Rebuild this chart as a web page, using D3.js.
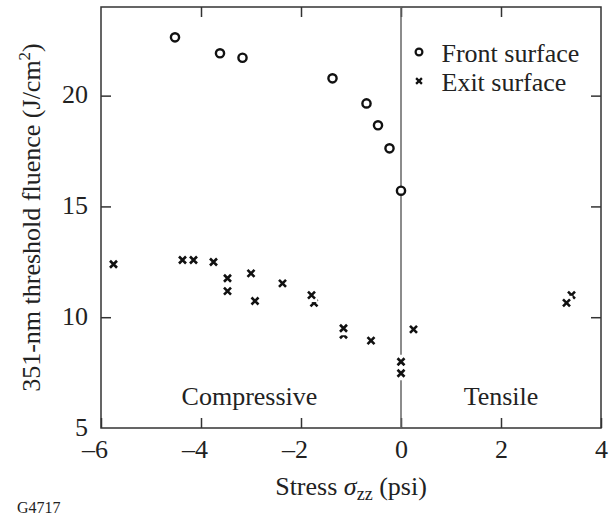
<!DOCTYPE html>
<head>
	<meta charset="UTF-8">
	<script src="https://d3js.org/d3.v7.min.js"></script>
	<style>
		body { margin: 0; background: #fff; }
		text { font-family: "Liberation Serif", "Times New Roman", serif; fill: #222; }
	</style>
</head>
<body>
	<div id="chart"></div>
<script>

// front surface (circles)
const frontStress = [-4.52, -3.62, -3.17, -1.37, -0.69, -0.46, -0.23, 0];
const frontFluence = [22.63, 21.91, 21.71, 20.78, 19.65, 18.66, 17.62, 15.71];

// exit surface (crosses) - partly hidden ones come first so later marks sit on top
const exitStress = [-1.74, -1.15, 3.41, -5.75, -4.37, -4.15, -3.75, -3.47, -3.47, -3.0, -2.92, -2.37, -1.79, -1.15, -0.6, 0.25, 0, 0, 3.31];
const exitFluence = [10.65, 9.21, 11.0, 12.39, 12.58, 12.58, 12.49, 11.76, 11.18, 11.98, 10.73, 11.53, 11.0, 9.5, 8.94, 9.45, 7.99, 7.47, 10.65];

const xTicks = [-6, -4, -2, 0, 2, 4];
const yTicks = [5, 10, 15, 20];
const legendLabels = ["Front surface", "Exit surface"];
const regionLabels = [{text: "Compressive", x: -3.03}, {text: "Tensile", x: 2}];

const width = 615, height = 518;
const margin = {top: 7, right: 14, bottom: 90, left: 101};

const x = d3.scaleLinear().domain([-6, 4]).range([margin.left, width - margin.right]);
const y = d3.scaleLinear().domain([5, 24]).range([height - margin.bottom, margin.top]);

const svg = d3.select("#chart").append("svg")
	.attr("width", width)
	.attr("height", height);

const fmt = d => d < 0 ? "\u2013" + Math.abs(d) : String(d);

// bottom axis
const gx = svg.append("g")
	.attr("transform", `translate(0,${y.range()[0]})`)
	.call(d3.axisBottom(x).tickValues(xTicks).tickFormat(fmt).tickSizeInner(-10).tickSizeOuter(0).tickPadding(12));
gx.selectAll("text")
	.attr("font-size", 26)
	.attr("text-anchor", d => d < 0 ? "end" : "middle")
	.attr("dx", d => d < 0 ? 6.5 : 0);

// top axis (ticks only)
svg.append("g")
	.attr("transform", `translate(0,${y.range()[1]})`)
	.call(d3.axisTop(x).tickValues(xTicks.slice(1, -1)).tickFormat("").tickSizeInner(-10).tickSizeOuter(0));

// left axis
const gy = svg.append("g")
	.attr("transform", `translate(${x.range()[0]},0)`)
	.call(d3.axisLeft(y).tickValues(yTicks).tickSizeInner(-10).tickSizeOuter(0).tickPadding(13));
gy.selectAll("text").attr("font-size", 26).attr("dy", "0.28em");
gy.selectAll(".tick line").filter(d => d === 5).remove();

// right axis (ticks only)
svg.append("g")
	.attr("transform", `translate(${x.range()[1]},0)`)
	.call(d3.axisRight(y).tickValues(yTicks.slice(1)).tickFormat("").tickSizeInner(-10).tickSizeOuter(0));

svg.selectAll(".domain").remove();
svg.selectAll(".tick line").attr("stroke", "#333").attr("stroke-width", 1.5);
svg.selectAll(".tick text").attr("fill", "#222").attr("font-family", "Liberation Serif, serif");

// frame
svg.append("rect")
	.attr("x", x.range()[0])
	.attr("y", y.range()[1])
	.attr("width", x.range()[1] - x.range()[0])
	.attr("height", y.range()[0] - y.range()[1])
	.attr("fill", "none")
	.attr("stroke", "#333")
	.attr("stroke-width", 1.5);

// zero stress line
svg.append("line")
	.attr("x1", x(0)).attr("x2", x(0))
	.attr("y1", y.range()[0]).attr("y2", y.range()[1])
	.attr("stroke", "#666")
	.attr("stroke-width", 1.5);

// region labels
svg.selectAll(".region")
	.data(regionLabels)
	.join("text")
	.attr("class", "region")
	.attr("x", d => x(d.x))
	.attr("y", 405)
	.attr("text-anchor", "middle")
	.attr("font-size", 26)
	.text(d => d.text);

// cross marks sit on a small white knockout box
function cross(g, px, py, s, w, box) {
	if (box) g.append("rect").attr("x", px - 6).attr("y", py - 7).attr("width", 12).attr("height", 14).attr("fill", "#fff");
	g.append("path")
		.attr("d", `M${px - s},${py - s}L${px + s},${py + s}M${px - s},${py + s}L${px + s},${py - s}`)
		.attr("stroke", "#111").attr("stroke-width", w).attr("fill", "none");
}

const exitG = svg.append("g");
exitStress.forEach((s, i) => cross(exitG, x(s), y(exitFluence[i]), 3.5, 2.6, true));

// circles
svg.append("g")
	.selectAll("circle")
	.data(frontStress)
	.join("circle")
	.attr("cx", d => x(d))
	.attr("cy", (d, i) => y(frontFluence[i]))
	.attr("r", 4.1)
	.attr("fill", "#fff")
	.attr("stroke", "#111")
	.attr("stroke-width", 2.4);

// legend
const lg = svg.append("g");
lg.append("circle").attr("cx", 419).attr("cy", 52).attr("r", 3.4)
	.attr("fill", "#fff").attr("stroke", "#111").attr("stroke-width", 2.2);
cross(lg, 419, 81, 2.9, 2.3, false);
lg.selectAll("text")
	.data(legendLabels)
	.join("text")
	.attr("x", 441.5)
	.attr("y", (d, i) => 62 + i * 28.5)
	.attr("font-size", 26)
	.text(d => d);

// axis titles
const xt = svg.append("text")
	.attr("x", (x.range()[0] + x.range()[1]) / 2)
	.attr("y", 495)
	.attr("text-anchor", "middle")
	.attr("font-size", 26);
xt.append("tspan").text("Stress ");
xt.append("tspan").attr("font-style", "italic").text("\u03c3");
xt.append("tspan").attr("font-size", 18).attr("dy", 5).text("zz");
xt.append("tspan").attr("dy", -5).text(" (psi)");

const yt = svg.append("text")
	.attr("transform", `translate(40,${(y.range()[0] + y.range()[1]) / 2}) rotate(-90)`)
	.attr("text-anchor", "middle")
	.attr("font-size", 26);
yt.append("tspan").text("351-nm threshold fluence (J/cm");
yt.append("tspan").attr("font-size", 17).attr("dy", -10).text("2");
yt.append("tspan").attr("dy", 10).text(")");

svg.append("text")
	.attr("x", 17)
	.attr("y", 513)
	.attr("font-size", 16)
	.attr("fill", "#333")
	.text("G4717");

</script>
</body>
</html>
